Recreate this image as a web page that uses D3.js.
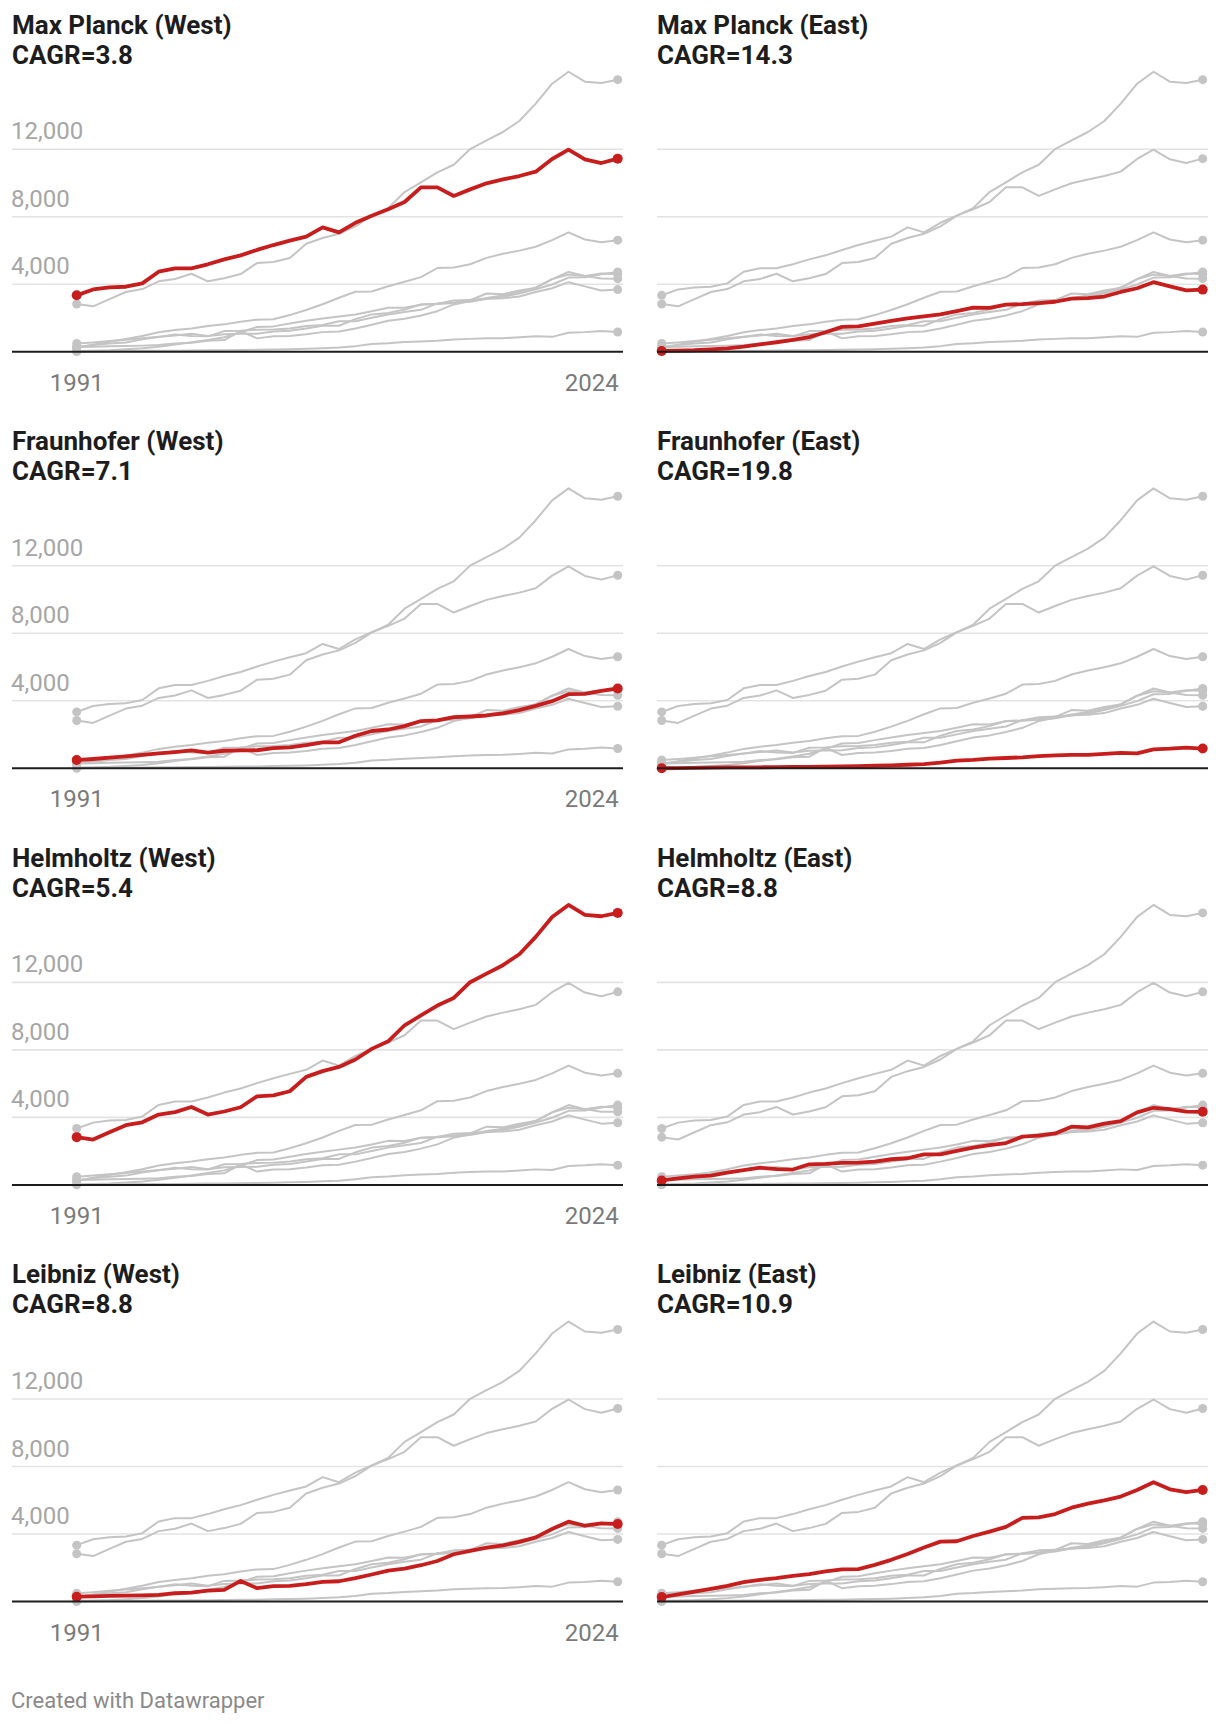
<!DOCTYPE html>
<html>
<head>
<meta charset="utf-8">
<script src="https://cdnjs.cloudflare.com/ajax/libs/d3/7.8.5/d3.min.js"></script>
<style>
  body { margin: 0; background: #fff; }
  svg text { font-family: Roboto, "Noto Sans", sans-serif; }
</style>
</head>
<body>
<div id="chart"></div>
<script>
// years on the x axis
var years = [1991, 1992, 1993, 1994, 1995, 1996, 1997, 1998, 1999, 2000, 2001, 2002,
             2003, 2004, 2005, 2006, 2007, 2008, 2009, 2010, 2011, 2012, 2013, 2014,
             2015, 2016, 2017, 2018, 2019, 2020, 2021, 2022, 2023, 2024];

// one series per panel
var maxPlanckWest  = [3340, 3690, 3810, 3850, 4050, 4740, 4940, 4940, 5180, 5470, 5710, 6030, 6320, 6580, 6820, 7370, 7070, 7640, 8060, 8440, 8870, 9740, 9740, 9230, 9620, 9980, 10210, 10410, 10670, 11420, 11970, 11400, 11180, 11440];
var maxPlanckEast  = [45, 60, 85, 140, 200, 300, 430, 560, 700, 860, 1150, 1470, 1500, 1670, 1830, 1970, 2090, 2210, 2400, 2610, 2600, 2790, 2820, 2880, 2960, 3140, 3170, 3270, 3540, 3760, 4120, 3870, 3630, 3680];
var fraunhoferWest = [490, 550, 630, 710, 790, 880, 960, 1060, 930, 1040, 1060, 1070, 1200, 1240, 1380, 1540, 1540, 1930, 2210, 2300, 2500, 2800, 2840, 3030, 3070, 3130, 3250, 3450, 3700, 3980, 4390, 4410, 4590, 4730];
var fraunhoferEast = [3, 15, 30, 40, 50, 55, 60, 70, 80, 90, 100, 110, 130, 150, 170, 210, 250, 330, 460, 500, 570, 610, 650, 720, 760, 790, 800, 850, 920, 880, 1120, 1160, 1230, 1170];
var helmholtzWest  = [2830, 2690, 3120, 3540, 3710, 4170, 4310, 4620, 4170, 4350, 4600, 5250, 5310, 5550, 6400, 6740, 6990, 7430, 8060, 8510, 9460, 10040, 10630, 11080, 12010, 12520, 13020, 13670, 14700, 15880, 16590, 16000, 15920, 16120];
var helmholtzEast  = [265, 390, 490, 550, 730, 870, 1020, 930, 910, 1220, 1240, 1300, 1320, 1380, 1520, 1580, 1810, 1810, 2010, 2210, 2350, 2480, 2860, 2920, 3050, 3450, 3410, 3630, 3780, 4300, 4570, 4490, 4340, 4330];
var leibnizWest    = [285, 300, 330, 345, 360, 390, 490, 530, 650, 690, 1220, 790, 910, 930, 1030, 1160, 1200, 1380, 1600, 1830, 1950, 2150, 2400, 2800, 3000, 3190, 3330, 3530, 3800, 4300, 4730, 4490, 4630, 4590];
var leibnizEast    = [260, 420, 590, 750, 930, 1150, 1280, 1380, 1520, 1620, 1780, 1900, 1920, 2170, 2470, 2810, 3200, 3550, 3570, 3880, 4140, 4420, 4960, 4990, 5180, 5560, 5800, 5990, 6220, 6610, 7070, 6650, 6480, 6610];

var panelTitles = ["Max Planck (West)", "Max Planck (East)", "Fraunhofer (West)", "Fraunhofer (East)",
                   "Helmholtz (West)", "Helmholtz (East)", "Leibniz (West)", "Leibniz (East)"];
var cagr = ["3.8", "14.3", "7.1", "19.8", "5.4", "8.8", "8.8", "10.9"];
var yTicks = [4000, 8000, 12000];
var xTickLabels = ["1991", "2024"];

var allSeries = [maxPlanckWest, maxPlanckEast, fraunhoferWest, fraunhoferEast,
                 helmholtzWest, helmholtzEast, leibnizWest, leibnizEast];

var width = 1220, height = 1724;
var rowStep = 416.6;
var red = "#c71e1d", grey = "#c4c4c4";

var svg = d3.select("#chart").append("svg")
    .attr("width", width)
    .attr("height", height);

svg.append("rect").attr("width", width).attr("height", height).attr("fill", "#fff");

panelTitles.forEach(function (title, i) {
  var col = i % 2, row = Math.floor(i / 2);
  var top = row * rowStep;
  var gridX0 = col ? 657 : 12, gridX1 = col ? 1208 : 623;
  var base = 351.7 + top;

  var x = d3.scaleLinear()
      .domain([years[0], years[years.length - 1]])
      .range(col ? [661.7, 1202.7] : [76.7, 617.7]);
  var y = d3.scaleLinear()
      .domain([0, 17000])
      .range([base, base - 17000 * 0.016875]);

  var g = svg.append("g");

  // title and CAGR
  g.append("text")
    .attr("x", col ? 657 : 12)
    .attr("y", top + 33.5)
    .style("font-size", "26px")
    .style("font-weight", "bold")
    .attr("fill", "#1d1d1d")
    .text(title);
  g.append("text")
    .attr("x", col ? 657 : 12)
    .attr("y", top + 63.5)
    .style("font-size", "26px")
    .style("font-weight", "bold")
    .attr("fill", "#1d1d1d")
    .text("CAGR=" + cagr[i]);

  // gridlines
  g.selectAll(".grid")
    .data(yTicks)
    .enter().append("line")
      .attr("x1", gridX0).attr("x2", gridX1)
      .attr("y1", function (d) { return y(d); })
      .attr("y2", function (d) { return y(d); })
      .attr("stroke", "#e3e3e3")
      .attr("stroke-width", 1.6);

  // y labels only on the left column
  if (!col) {
    g.selectAll(".ylab")
      .data(yTicks)
      .enter().append("text")
        .attr("x", gridX0 - 1)
        .attr("y", function (d) { return y(d) - 10; })
        .style("font-size", "24px")
        .attr("fill", "#a6a6a6")
        .text(d3.format(","));

    g.append("text")
      .attr("x", x(+xTickLabels[0]))
      .attr("y", base + 39)
      .attr("text-anchor", "middle")
      .style("font-size", "24px")
      .attr("fill", "#7a7a7a")
      .text(xTickLabels[0]);
    g.append("text")
      .attr("x", x(+xTickLabels[1]) + 1)
      .attr("y", base + 39)
      .attr("text-anchor", "end")
      .style("font-size", "24px")
      .attr("fill", "#7a7a7a")
      .text(xTickLabels[1]);
  }

  var line = d3.line()
      .x(function (d, k) { return x(years[k]); })
      .y(function (d) { return y(d); });

  // grey context lines first, highlighted series last
  var order = allSeries.map(function (s, k) { return k; }).filter(function (k) { return k !== i; });
  order.push(i);

  order.forEach(function (k) {
    var hi = k === i;
    var s = allSeries[k];
    g.append("path")
      .datum(s)
      .attr("d", line)
      .attr("fill", "none")
      .attr("stroke", hi ? red : grey)
      .attr("stroke-width", hi ? 3.8 : 2)
      .attr("stroke-linejoin", "round")
      .attr("stroke-linecap", "round");
    g.selectAll(null)
      .data([0, s.length - 1])
      .enter().append("circle")
        .attr("cx", function (d) { return x(years[d]); })
        .attr("cy", function (d) { return y(s[d]); })
        .attr("r", hi ? 5 : 4.5)
        .attr("fill", hi ? red : grey);
  });

  // zero baseline
  g.append("line")
    .attr("x1", gridX0).attr("x2", gridX1)
    .attr("y1", base).attr("y2", base)
    .attr("stroke", "#1d1d1d")
    .attr("stroke-width", 2);
});

svg.append("text")
  .attr("x", 11)
  .attr("y", 1708)
  .style("font-size", "22px")
  .attr("fill", "#8a8a8a")
  .text("Created with Datawrapper");
</script>
</body>
</html>
